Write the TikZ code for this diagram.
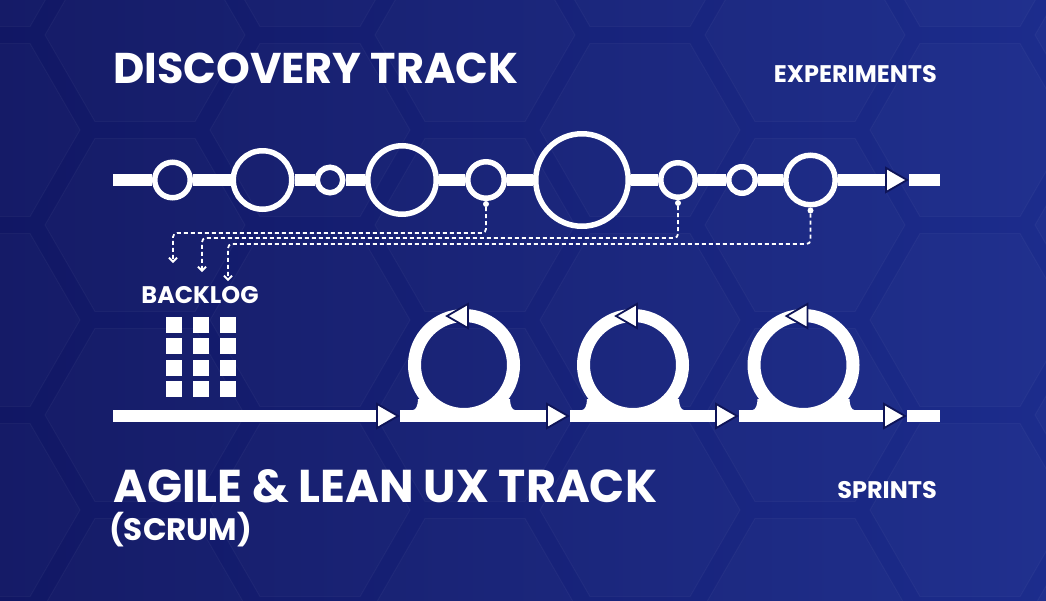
\documentclass[tikz,border=0pt]{standalone}
\usepackage{fontspec}
\newfontfamily\trackfont{Poppins}
\usepackage{tikz}
\usetikzlibrary{positioning,shapes.geometric,arrows.meta,calc}
\definecolor{deepnavy}{RGB}{14,20,88}
\definecolor{bgleft}{RGB}{17,23,100}
\definecolor{bgright}{RGB}{28,44,140}
\tikzset{
  track/.style={white, line width=12pt},
  stop/.style={circle, draw=white, line width=5.5pt, inner sep=0pt},
  flowtip/.style={regular polygon, regular polygon sides=3, shape border rotate=-90, fill=white, draw=deepnavy, line width=1.8pt, minimum size=28pt, inner sep=0pt},
  looptip/.style={flowtip, shape border rotate=90},
  sprintring/.style={circle, draw=white, line width=13pt, minimum size=99pt, inner sep=0pt},
  tap/.style={circle, fill=white, minimum size=6pt, inner sep=0pt},
  feed/.style={white, line width=1.8pt, dash pattern=on 4pt off 3pt, rounded corners=4pt, -{Straight Barb[length=4pt,width=8pt]}},
  card/.style={fill=white, minimum size=16pt, inner sep=0pt},
  hexcell/.style={regular polygon, regular polygon sides=6, minimum size=200pt, draw=white, draw opacity=0.035, fill=white, fill opacity=0.018, line width=1pt},
  headline/.style={text=white, inner sep=0pt, font=\trackfont\bfseries\fontsize{43}{46}\selectfont},
  subline/.style={text=white, inner sep=0pt, font=\trackfont\bfseries\fontsize{31}{34}\selectfont},
  tag/.style={text=white, inner sep=0pt, font=\trackfont\bfseries\fontsize{24}{26}\selectfont}
}
\begin{document}
\begin{tikzpicture}[x=1pt, y=-1pt]
	\fill[left color=bgleft, right color=bgright] (0,0) rectangle (1046,600);
	\useasboundingbox (0,0) rectangle (1046,600);
	\foreach \i in {0,...,7} {
		\foreach \j in {0,...,3} {
			\pgfmathsetmacro\hx{\i*165-20}
			\pgfmathsetmacro\hy{\j*190-60+mod(\i,2)*95}
			\node[hexcell] (hex-\i-\j) at (\hx,\hy) {};
		}
	}

	\node[headline, anchor=base west] (discovery) at (113,83) {DISCOVERY TRACK};
	\node[tag, anchor=base east] (experiments) at (937,82) {EXPERIMENTS};

	\node[stop, minimum size=35.5pt] (c1) at (172.5,180) {};
	\node[stop, minimum size=58.5pt, right=37.5pt of c1] (c2) {};
	\node[stop, minimum size=25.5pt, right=20pt of c2] (c3) {};
	\node[stop, minimum size=68.5pt, right=19.5pt of c3] (c4) {};
	\node[stop, minimum size=36.5pt, right=26pt of c4] (c5) {};
	\node[stop, minimum size=92.5pt, right=26pt of c5] (c6) {};
	\node[stop, minimum size=34.5pt, right=27pt of c6] (c7) {};
	\node[stop, minimum size=26.5pt, right=28pt of c7] (c8) {};
	\node[stop, minimum size=49.5pt, right=25pt of c8] (c9) {};
	\node[flowtip] (ta) at (893,180) {};
	\coordinate (ts) at (113,180);
	\coordinate (te) at (940,180);
	\draw[track] (ts) -- (c1) -- (c2) -- (c3) -- (c4) -- (c5) -- (c6) -- (c7) -- (c8) -- (c9) -- (ta) -- (te);

	\node[tap] (d5) at ($(c5.south)+(0,3)$) {};
	\node[tap] (d7) at ($(c7.south)+(0,3)$) {};
	\node[tap] (d9) at ($(c9.south)+(0,3)$) {};
	\coordinate (in1) at (173,263);
	\coordinate (in2) at (202,272);
	\coordinate (in3) at (228,281);
	\draw[feed] (d5) |- (173,233) -- (in1);
	\draw[feed] (d7) |- (202,238) -- (in2);
	\draw[feed] (d9) |- (228,244) -- (in3);

	\node[tag, anchor=base] (backlog) at (200,303) {BACKLOG};
	\foreach \c in {0,1,2} {
		\foreach \r in {0,...,3} {
			\node[card] (card-\c-\r) at (173.5+27*\c,325+21.3*\r) {};
		}
	}

	\node[sprintring] (s1) at (464,365) {};
	\node[sprintring] (s2) at (633,365) {};
	\node[sprintring] (s3) at (803.5,365) {};
	\foreach \cx in {464,633,803.5} {
		\fill[white] (\cx-51,410) .. controls (\cx-48,410) and (\cx-46,405) .. (\cx-46,399) -- (\cx-30,399) -- (\cx-30,412) -- (\cx-51,412) -- cycle;
		\fill[white] (\cx+51,410) .. controls (\cx+48,410) and (\cx+46,405) .. (\cx+46,399) -- (\cx+30,399) -- (\cx+30,412) -- (\cx+51,412) -- cycle;
	}
	\node[flowtip] (b1) at (384,416) {};
	\node[flowtip] (b2) at (554,416) {};
	\node[flowtip] (b3) at (723,416) {};
	\node[flowtip] (b4) at (891,416) {};
	\coordinate (bs) at (113,416);
	\coordinate (be) at (940,416);
	\draw[track] (bs) -- (b1) -- (b2) -- (b3) -- (b4) -- (be);
	\node[looptip] (t1) at (461,316) {};
	\node[looptip] (t2) at (630,316) {};
	\node[looptip] (t3) at (800.5,316) {};

	\node[headline, anchor=base west, font=\trackfont\bfseries\fontsize{46}{50}\selectfont] (agile) at (113,502) {AGILE \& LEAN UX TRACK};
	\node[subline, anchor=base west] (scrum) at (109,540) {(SCRUM)};
	\node[tag, anchor=base east] (sprints) at (937,498) {SPRINTS};
\end{tikzpicture}
\end{document}
